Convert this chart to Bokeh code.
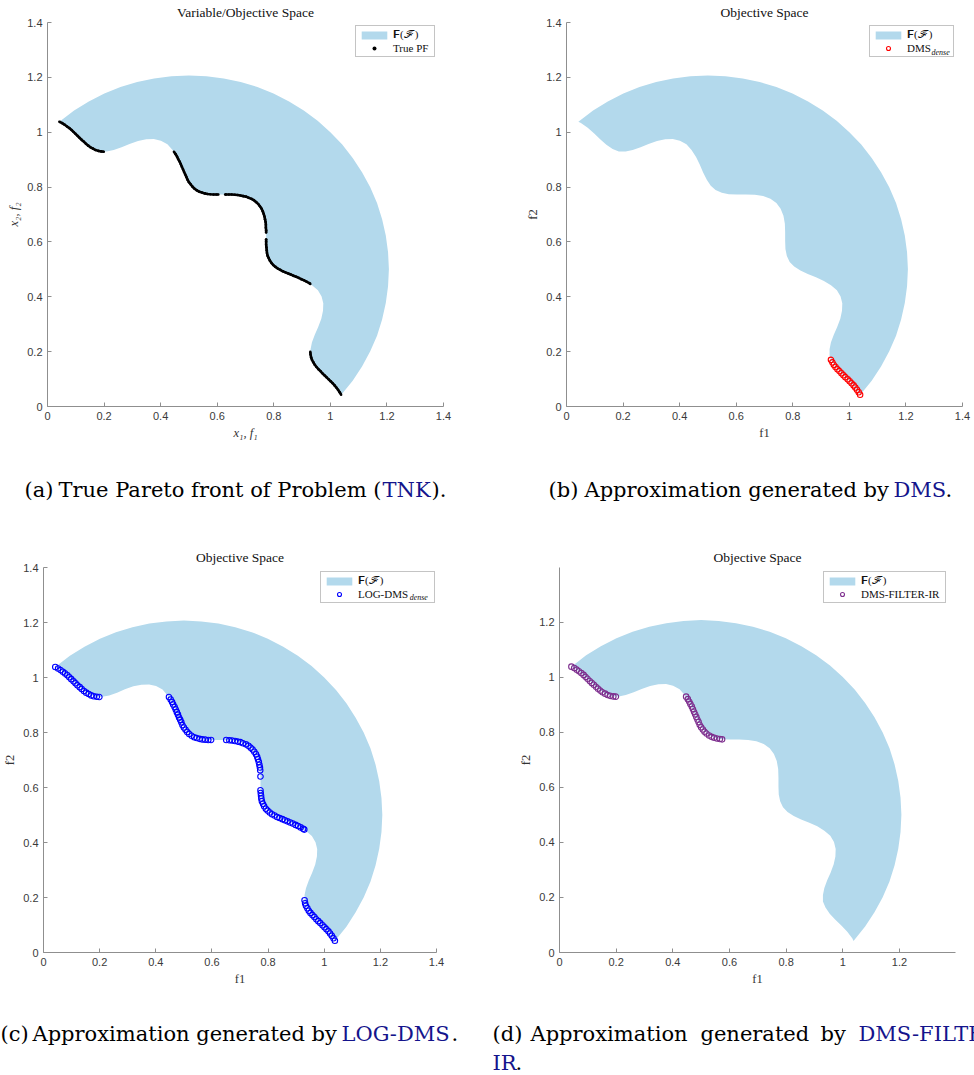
from bokeh.plotting import figure
from bokeh.models import Range1d, FixedTicker, Legend, LegendItem
from bokeh.layouts import column, row
from bokeh.embed import file_html
from bokeh.resources import INLINE
from bokeh.core.properties import value

NaN = float("nan")

# ---------------- data ----------------
# inner (wavy) boundary of the feasible image F(F), from upper-left end to lower-right end
inner_f1 = [0.042, 0.051, 0.075, 0.098, 0.120, 0.141, 0.163, 0.185, 0.209, 0.234, 0.262, 0.290,
            0.320, 0.349, 0.376, 0.401, 0.424, 0.442, 0.458, 0.471, 0.483, 0.496, 0.510, 0.527,
            0.549, 0.574, 0.603, 0.634, 0.666, 0.695, 0.721, 0.742, 0.757, 0.767, 0.772, 0.773,
            0.773, 0.774, 0.779, 0.789, 0.805, 0.827, 0.853, 0.882, 0.910, 0.935, 0.956, 0.969,
            0.975, 0.974, 0.968, 0.957, 0.945, 0.935, 0.930, 0.930, 0.939, 0.954, 0.973, 0.995,
            1.016, 1.034, 1.038]
inner_f2 = [1.038, 1.034, 1.016, 0.995, 0.973, 0.954, 0.939, 0.930, 0.930, 0.935, 0.945, 0.957,
            0.968, 0.974, 0.975, 0.969, 0.956, 0.935, 0.910, 0.882, 0.853, 0.827, 0.805, 0.789,
            0.779, 0.774, 0.773, 0.773, 0.772, 0.767, 0.757, 0.742, 0.721, 0.695, 0.666, 0.634,
            0.603, 0.574, 0.549, 0.527, 0.510, 0.496, 0.483, 0.471, 0.458, 0.442, 0.424, 0.401,
            0.376, 0.349, 0.320, 0.290, 0.262, 0.234, 0.209, 0.185, 0.163, 0.141, 0.120, 0.098,
            0.075, 0.051, 0.042]
# outer (circular) boundary, from lower-right end back to upper-left end
outer_f1 = [1.079, 1.112, 1.141, 1.165, 1.183, 1.196, 1.204, 1.207, 1.204, 1.196, 1.183, 1.165,
            1.141, 1.112, 1.079, 1.042, 1.000, 0.955, 0.906, 0.854, 0.799, 0.742, 0.683, 0.623,
            0.562, 0.500, 0.438, 0.377, 0.317, 0.258, 0.201, 0.146, 0.094]
outer_f2 = [0.094, 0.146, 0.201, 0.258, 0.317, 0.377, 0.438, 0.500, 0.562, 0.623, 0.683, 0.742,
            0.799, 0.854, 0.906, 0.955, 1.000, 1.042, 1.079, 1.112, 1.141, 1.165, 1.183, 1.196,
            1.204, 1.207, 1.204, 1.196, 1.183, 1.165, 1.141, 1.112, 1.079]

# true Pareto front (segments separated by NaN)
true_pf_f1 = [0.042, 0.052, 0.061, 0.069, 0.077, 0.085, 0.092, 0.099, 0.107, 0.114, 0.121, 0.129,
              0.136, 0.144, 0.152, 0.161, 0.170, 0.179, 0.190, 0.199, NaN,
              0.447, 0.453, 0.458, 0.462, 0.467, 0.471, 0.475, 0.479, 0.483, 0.487, 0.491, 0.495,
              0.500, 0.506, 0.512, 0.519, 0.528, 0.537, 0.546, 0.556, 0.566, 0.576, 0.587, 0.597,
              0.604, NaN,
              0.628, 0.631, 0.641, 0.651, 0.662, 0.672, 0.682, 0.692, 0.702, 0.711, 0.721, 0.730,
              0.738, 0.745, 0.751, 0.757, 0.761, 0.764, 0.767, 0.769, 0.771, 0.772, 0.772, 0.773,
              0.773, NaN,
              0.773, 0.773, 0.773, 0.774, 0.775, 0.776, 0.778, 0.782, 0.786, 0.792, 0.798,
              0.806, 0.814, 0.823, 0.832, 0.841, 0.851, 0.860, 0.869, 0.879, 0.888, 0.898, 0.907,
              0.916, 0.925, 0.929, NaN,
              0.929, 0.930, 0.932, 0.935, 0.940, 0.945, 0.951, 0.958, 0.965, 0.972, 0.979, 0.986,
              0.994, 1.001, 1.008, 1.015, 1.021, 1.027, 1.033, 1.038]
true_pf_f2 = [1.038, 1.033, 1.027, 1.021, 1.015, 1.008, 1.001, 0.994, 0.986, 0.979, 0.972, 0.965,
              0.958, 0.951, 0.945, 0.940, 0.935, 0.932, 0.930, 0.929, NaN,
              0.929, 0.920, 0.911, 0.902, 0.893, 0.884, 0.874, 0.865, 0.855, 0.846, 0.837, 0.827,
              0.818, 0.810, 0.802, 0.795, 0.788, 0.783, 0.780, 0.777, 0.775, 0.774, 0.773, 0.773,
              0.773, NaN,
              0.773, 0.773, 0.773, 0.773, 0.772, 0.771, 0.769, 0.767, 0.765, 0.761, 0.757, 0.752,
              0.745, 0.738, 0.730, 0.721, 0.712, 0.703, 0.693, 0.683, 0.673, 0.663, 0.652, 0.642,
              0.634, NaN,
              0.610, 0.601, 0.590, 0.580, 0.570, 0.560, 0.550, 0.541, 0.532, 0.523, 0.516,
              0.509, 0.503, 0.498, 0.493, 0.489, 0.485, 0.481, 0.477, 0.473, 0.469, 0.464, 0.460,
              0.455, 0.450, 0.447, NaN,
              0.199, 0.190, 0.179, 0.170, 0.161, 0.152, 0.144, 0.136, 0.129, 0.121, 0.114, 0.107,
              0.099, 0.092, 0.085, 0.077, 0.069, 0.061, 0.052, 0.043]

# DMS_dense approximation
dms_f1 = [0.935, 0.940, 0.945, 0.951, 0.958, 0.965, 0.972, 0.979, 0.986, 0.994, 1.001, 1.008,
          1.015, 1.021, 1.027, 1.033, 1.038]
dms_f2 = [0.170, 0.161, 0.152, 0.144, 0.136, 0.129, 0.121, 0.114, 0.107, 0.099, 0.092, 0.085,
          0.077, 0.069, 0.061, 0.052, 0.043]

# LOG-DMS_dense approximation
logdms_f1 = [0.042, 0.052, 0.061, 0.069, 0.077, 0.085, 0.092, 0.099, 0.107, 0.114, 0.121, 0.129,
             0.136, 0.144, 0.152, 0.161, 0.170, 0.179, 0.190, 0.199,
             0.447, 0.453, 0.458, 0.462, 0.467, 0.471, 0.475, 0.479, 0.483, 0.487, 0.491, 0.495,
             0.500, 0.506, 0.512, 0.519, 0.528, 0.537, 0.546, 0.556, 0.566, 0.576, 0.587, 0.597,
             0.651, 0.662, 0.672, 0.682, 0.692, 0.702, 0.711, 0.721, 0.730, 0.738, 0.745, 0.751,
             0.757, 0.761, 0.764, 0.767, 0.769, 0.771, 0.772, 0.773,
             0.773, 0.774, 0.775, 0.776, 0.778, 0.782, 0.786, 0.792, 0.798, 0.806, 0.814, 0.823,
             0.832, 0.841, 0.851, 0.860, 0.869, 0.879, 0.888, 0.898, 0.907, 0.916, 0.925, 0.929,
             0.930, 0.932, 0.935, 0.940, 0.945, 0.951, 0.958, 0.965, 0.972, 0.979, 0.986, 0.994,
             1.001, 1.008, 1.015, 1.021, 1.027, 1.033, 1.038]
logdms_f2 = [1.038, 1.033, 1.027, 1.021, 1.015, 1.008, 1.001, 0.994, 0.986, 0.979, 0.972, 0.965,
             0.958, 0.951, 0.945, 0.940, 0.935, 0.932, 0.930, 0.929,
             0.929, 0.920, 0.911, 0.902, 0.893, 0.884, 0.874, 0.865, 0.855, 0.846, 0.837, 0.827,
             0.818, 0.810, 0.802, 0.795, 0.788, 0.783, 0.780, 0.777, 0.775, 0.774, 0.773, 0.773,
             0.773, 0.772, 0.771, 0.769, 0.767, 0.765, 0.761, 0.757, 0.752, 0.745, 0.738, 0.730,
             0.721, 0.712, 0.703, 0.693, 0.683, 0.673, 0.663, 0.640,
             0.590, 0.580, 0.570, 0.560, 0.550, 0.541, 0.532, 0.523, 0.516, 0.509, 0.503, 0.498,
             0.493, 0.489, 0.485, 0.481, 0.477, 0.473, 0.469, 0.464, 0.460, 0.455, 0.450, 0.447,
             0.190, 0.179, 0.170, 0.161, 0.152, 0.144, 0.136, 0.129, 0.121, 0.114, 0.107, 0.099,
             0.092, 0.085, 0.077, 0.069, 0.061, 0.052, 0.043]

# DMS-FILTER-IR approximation
filter_f1 = [0.042, 0.052, 0.061, 0.069, 0.077, 0.085, 0.092, 0.099, 0.107, 0.114, 0.121, 0.129,
             0.136, 0.144, 0.152, 0.161, 0.170, 0.179, 0.190, 0.199,
             0.447, 0.453, 0.458, 0.462, 0.467, 0.471, 0.475, 0.479, 0.483, 0.487, 0.491, 0.495,
             0.500, 0.506, 0.512, 0.519, 0.528, 0.537, 0.546, 0.556, 0.566, 0.574]
filter_f2 = [1.038, 1.033, 1.027, 1.021, 1.015, 1.008, 1.001, 0.994, 0.986, 0.979, 0.972, 0.965,
             0.958, 0.951, 0.945, 0.940, 0.935, 0.932, 0.930, 0.929,
             0.929, 0.920, 0.911, 0.902, 0.893, 0.884, 0.874, 0.865, 0.855, 0.846, 0.837, 0.827,
             0.818, 0.810, 0.802, 0.795, 0.788, 0.783, 0.780, 0.777, 0.775, 0.774]

tick_values = [0, 0.2, 0.4, 0.6, 0.8, 1, 1.2, 1.4]
tick_labels = ["0", "0.2", "0.4", "0.6", "0.8", "1", "1.2", "1.4"]
tick_values_d = [0, 0.2, 0.4, 0.6, 0.8, 1, 1.2]
tick_labels_d = ["0", "0.2", "0.4", "0.6", "0.8", "1", "1.2"]

# ---------------- style ----------------
REGION = "#B3D9EC"
AXIS = "#8f8f8f"
TICKTXT = "#3a3a3a"
LINK = "#14148c"
SERIF = "Liberation Serif"
SANS = "Liberation Sans"
CAPFONT = "DejaVu Serif"
PXX = 396 / 1.4   # frame pixels per unit (x) in panels a-c
PXY = 385 / 1.4   # frame pixels per unit (y) in panels a-c


def panel(width, height, left, right, top, bottom, xmax, ymax, ticks, labels,
          title, xlabel, ylabel, label_style):
    p = figure(width=width, height=height,
               x_range=Range1d(0, xmax), y_range=Range1d(0, ymax),
               output_backend="svg", toolbar_location=None,
               min_border_left=left, min_border_right=right,
               min_border_top=top, min_border_bottom=bottom)
    p.title.text = title
    p.title.align = "center"
    p.title.text_font = SERIF
    p.title.text_font_size = "13.5px"
    p.title.text_font_style = "normal"
    p.title.text_color = "#111111"
    p.title.standoff = 5
    p.outline_line_color = None
    p.grid.visible = False
    p.background_fill_color = "white"
    p.border_fill_color = "white"
    for ax in (p.xaxis, p.yaxis):
        ax.ticker = FixedTicker(ticks=ticks)
        ax.major_label_overrides = dict(zip(ticks, labels))
        ax.axis_line_color = AXIS
        ax.major_tick_line_color = AXIS
        ax.major_tick_in = 4
        ax.major_tick_out = 0
        ax.minor_tick_line_color = None
        ax.major_label_text_font = SANS
        ax.major_label_text_font_size = "11px"
        ax.major_label_text_color = TICKTXT
        ax.major_label_standoff = 5
        ax.axis_label_text_font = SERIF
        ax.axis_label_text_font_size = "12.5px"
        ax.axis_label_text_font_style = label_style
        ax.axis_label_text_color = "#333333"
        ax.axis_label_standoff = 3
    p.xaxis.axis_label = xlabel
    p.yaxis.axis_label = ylabel
    region = p.patch(inner_f1 + outer_f1, inner_f2 + outer_f2,
                     fill_color=REGION, line_color=None)
    return p, region


def legend(p, items, loc, label_width):
    lg = Legend(items=items, location=loc, margin=0, padding=2, spacing=0,
                glyph_width=32, glyph_height=10, label_height=13,
                label_width=label_width, label_standoff=3,
                label_text_font=SERIF, label_text_font_size="11px",
                label_text_color="#111111",
                border_line_color="#8a8a8a", border_line_width=1,
                background_fill_color="white", background_fill_alpha=0.0)
    p.add_layout(lg)
    return lg


def subscript(p, x, y, text):
    # x, y: position inside the legend box, in frame pixels from the frame's lower-left corner
    p.text(x=[x / PXX], y=[y / PXY], text=[text], text_font=value(SERIF),
           text_font_size="8px", text_font_style="italic", text_baseline="middle",
           text_align="left", text_color="#111111")


# (a)
pa, ra = panel(487, 460, 47, 44, 21, 54, 1.4, 1.4, tick_values, tick_labels,
               "Variable/Objective Space", "x\u2081, f\u2081", "x\u2082, f\u2082", "italic")
pa.line(true_pf_f1, true_pf_f2, line_color="black", line_width=2.6)
sa = pa.scatter(true_pf_f1, true_pf_f2, size=2.6, fill_color="black", line_color=None)
legend(pa, [LegendItem(label="\U0001D405(\u2131)", renderers=[ra]),
            LegendItem(label="True PF", renderers=[sa])], (308, 349), 39)

# (b)
pb, rb = panel(487, 460, 79, 12, 21, 54, 1.4, 1.4, tick_values, tick_labels,
               "Objective Space", "f1", "f2", "normal")
sb = pb.scatter(dms_f1, dms_f2, marker="circle", size=5.5, fill_color=None,
                line_color="#FF0000", line_width=1.1)
subscript(pb, 303 + 2 + 32 + 3 + 25, 355, "dense")
legend(pb, [LegendItem(label="\U0001D405(\u2131)", renderers=[rb]),
            LegendItem(label="DMS", renderers=[sb])], (303, 349), 44)

# (c)
pc, rc = panel(487, 460, 40, 51, 27, 48, 1.4, 1.4, tick_values, tick_labels,
               "Objective Space", "f1", "f2", "normal")
sc = pc.scatter(logdms_f1, logdms_f2, marker="circle", size=5.5, fill_color=None,
                line_color="#0000FF", line_width=1.1)
subscript(pc, 277 + 2 + 32 + 3 + 55, 355, "dense")
legend(pc, [LegendItem(label="\U0001D405(\u2131)", renderers=[rc]),
            LegendItem(label="LOG-DMS", renderers=[sc])], (277, 349), 74)

# (d)
pd_, rd = panel(487, 460, 72, 19, 27, 48, 1.398, 1.398, tick_values_d, tick_labels_d,
                "Objective Space", "f1", "f2", "normal")
sd = pd_.scatter(filter_f1, filter_f2, marker="circle", size=5.5, fill_color=None,
                 line_color="#7E2F8E", line_width=1.1)
legend(pd_, [LegendItem(label="\U0001D405(\u2131)", renderers=[rd]),
             LegendItem(label="DMS-FILTER-IR", renderers=[sd])], (264, 349), 82)


def caption(height):
    c = figure(width=974, height=height, x_range=Range1d(0, 974), y_range=Range1d(height, 0),
               output_backend="svg", toolbar_location=None, x_axis_type=None, y_axis_type=None,
               min_border_left=0, min_border_right=0, min_border_top=0, min_border_bottom=0)
    c.grid.visible = False
    c.outline_line_color = None
    return c


def words(c, xs, ys, texts, color):
    c.text(x=xs, y=ys, text=texts, text_font=value(CAPFONT), text_font_size="21px",
           text_color=color, text_baseline="middle", text_align="left")


cap1 = caption(80)
words(cap1, [24, 58, 431, 548, 584, 945], [29] * 6,
      ["(a)", "True Pareto front of Problem (", ").", "(b)", "Approximation generated by", "."],
      "black")
words(cap1, [382, 893], [29, 29], ["TNK", "DMS"], LINK)

cap2 = caption(75)
words(cap2, [0, 32, 451, 492, 530, 700, 820, 515], [33, 33, 33, 33, 33, 33, 33, 62],
      ["(c)", "Approximation generated by", ".", "(d)", "Approximation", "generated", "by", "."],
      "black")
words(cap2, [341, 858, 492], [33, 33, 62], ["LOG-DMS", "DMS-FILTER-", "IR"], LINK)

layout = column(row(pa, pb), cap1, row(pc, pd_), cap2)
open("out.html", "w").write(file_html(layout, INLINE))
